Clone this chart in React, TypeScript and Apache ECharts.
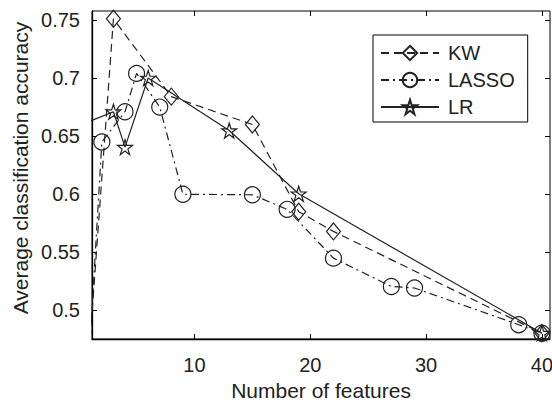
import React, { useEffect, useRef } from "react";
import * as echarts from "echarts";

const kwX = [1, 3, 8, 15, 19, 22, 40];
const kwY = [0.477, 0.751, 0.684, 0.66, 0.585, 0.568, 0.4804];
const lassoX = [1, 2, 4, 5, 7, 9, 15, 18, 22, 27, 29, 38, 40];
const lassoY = [0.476, 0.645, 0.671, 0.704, 0.675, 0.6, 0.5995, 0.587, 0.545, 0.5206, 0.5193, 0.4877, 0.4804];
const lrX = [1, 3, 4, 6, 13, 19, 40];
const lrY = [0.663, 0.671, 0.6405, 0.7, 0.6548, 0.6004, 0.4804];
const xTicks = [10, 20, 30, 40];
const yTicks = [0.5, 0.55, 0.6, 0.65, 0.7, 0.75];

const FONT = '"Liberation Sans", Arial, sans-serif';
const INK = "#222";
const STAR =
  "path://M50,0 L61.2,34.5 L97.6,34.5 L68.2,55.9 L79.4,90.5 L50,69.1 L20.6,90.5 L31.8,55.9 L2.4,34.5 L38.8,34.5 Z";

const pairs = (xs: number[], ys: number[]) => xs.map((x, i) => [x, ys[i]]);

export default function App() {
  const ref = useRef<HTMLDivElement>(null);
  useEffect(() => {
    if (!ref.current) return;
    const chart = echarts.init(ref.current, null, { renderer: "svg" });
    const tickStyle = { inside: true, length: 5, lineStyle: { color: "#000", width: 1 } };
    const mk = (name: string, xs: number[], ys: number[], symbol: string, size: any, type: any) => ({
      name,
      type: "line",
      data: pairs(xs, ys),
      symbol,
      symbolSize: size,
      showSymbol: true,
      clip: true,
      lineStyle: { color: INK, width: 1.2, type },
      itemStyle: { color: "rgba(255,255,255,0)", borderColor: INK, borderWidth: 1.2 },
      emphasis: { disabled: true },
      z: 3,
    });
    chart.setOption({
      animation: false,
      backgroundColor: "#fff",
      grid: {
        left: 92,
        right: 2,
        top: 11,
        bottom: 64,
        show: true,
        borderColor: "#000",
        borderWidth: 1,
        backgroundColor: "transparent",
        containLabel: false,
        outerBoundsMode: "none",
      },
      legend: {
        left: 373,
        top: 35,
        orient: "vertical",
        itemWidth: 58,
        itemHeight: 18,
        itemGap: 7,
        padding: [8, 13, 5, 7],
        borderColor: "#000",
        borderWidth: 1,
        backgroundColor: "#fff",
        textStyle: { fontFamily: FONT, fontSize: 20, color: INK, padding: [0, 0, 0, 4] },
        data: ["KW", "LASSO", "LR"],
      },
      xAxis: [
        {
          type: "value",
          min: 1.15,
          max: 40.7,
          position: "bottom",
          axisLine: { show: true, lineStyle: { color: "#000", width: 1.3 } },
          axisTick: { ...tickStyle, customValues: xTicks },
          axisLabel: { customValues: xTicks, fontFamily: FONT, fontSize: 20, color: INK, margin: 16 },
          splitLine: { show: false },
          name: "Number of features",
          nameLocation: "middle",
          nameGap: 41,
          nameTextStyle: { fontFamily: FONT, fontSize: 21, color: INK },
        },
        {
          type: "value",
          min: 1.15,
          max: 40.7,
          position: "top",
          axisLine: { show: false },
          axisTick: { ...tickStyle, customValues: xTicks },
          axisLabel: { show: false },
          splitLine: { show: false },
        },
      ],
      yAxis: [
        {
          type: "value",
          min: 0.4754,
          max: 0.7577,
          position: "left",
          axisLine: { show: true, lineStyle: { color: "#000", width: 1.3 } },
          axisTick: { ...tickStyle, customValues: yTicks },
          axisLabel: {
            customValues: yTicks,
            fontFamily: FONT,
            fontSize: 20,
            color: INK,
            margin: 12,
            formatter: (v: number) => String(Number(v.toFixed(2))),
          },
          splitLine: { show: false },
        },
        {
          type: "value",
          min: 0.4754,
          max: 0.7577,
          position: "right",
          axisLine: { show: false },
          axisTick: { ...tickStyle, customValues: yTicks },
          axisLabel: { show: false },
          splitLine: { show: false },
        },
      ],
      graphic: [
        {
          type: "text",
          x: 20,
          y: 168,
          rotation: Math.PI / 2,
          style: {
            text: "Average classification accuracy",
            font: `21px ${FONT}`,
            fill: INK,
            align: "center",
            verticalAlign: "middle",
          },
        },
      ],
      series: [
        mk("KW", kwX, kwY, "diamond", [14, 17], [8, 5]),
        mk("LASSO", lassoX, lassoY, "circle", 16, [8, 4, 2, 4]),
        mk("LR", lrX, lrY, STAR, 15, "solid"),
      ],
    });
    return () => chart.dispose();
  }, []);
  return <div ref={ref} style={{ position: "fixed", left: 0, top: 0, width: 552, height: 403 }} />;
}
